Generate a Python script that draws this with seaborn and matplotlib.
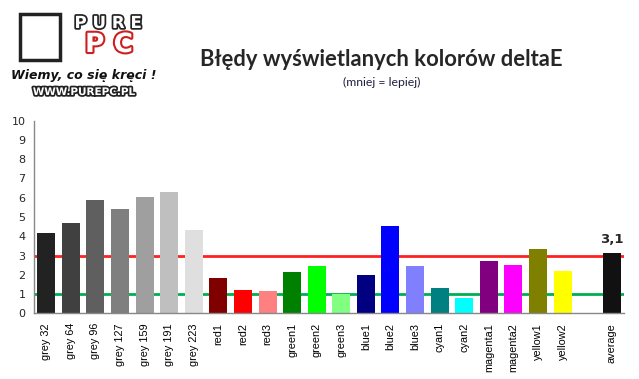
import matplotlib
matplotlib.use("Agg")
import matplotlib.pyplot as plt
import matplotlib.patheffects as pe
from matplotlib.patches import Rectangle
import seaborn as sns
import pandas as pd

categories = ["grey 32", "grey 64", "grey 96", "grey 127", "grey 159", "grey 191", "grey 223",
              "red1", "red2", "red3", "green1", "green2", "green3",
              "blue1", "blue2", "blue3", "cyan1", "cyan2",
              "magenta1", "magenta2", "yellow1", "yellow2", " ", "average"]
values = [4.17, 4.69, 5.88, 5.42, 6.04, 6.30, 4.33,
          1.83, 1.21, 1.16, 2.15, 2.46, 1.00,
          1.99, 4.53, 2.46, 1.31, 0.80,
          2.72, 2.51, 3.34, 2.20, 0.0, 3.13]
colors = ["#222222", "#404040", "#5f5f5f", "#7f7f7f", "#9f9f9f", "#bfbfbf", "#dfdfdf",
          "#800000", "#ff0000", "#ff8080", "#008000", "#00ff00", "#80ff80",
          "#000080", "#0000ff", "#8080ff", "#008080", "#00ffff",
          "#800080", "#ff00ff", "#808000", "#ffff00", "#ffffff", "#111111"]
y_ticks = list(range(0, 11))
red_level = 3
green_level = 1
avg_label = "3,1"
title = "Błędy wyświetlanych kolorów deltaE"
subtitle = "(mniej = lepiej)"

df = pd.DataFrame({"cat": categories, "val": values})
palette = dict(zip(categories, colors))

sns.set_style("white")
fig = plt.figure(figsize=(6.39, 3.79), dpi=100)
ax = fig.add_axes([34 / 639, (379 - 313.3) / 379, 590 / 639, 192.6 / 379])

sns.barplot(data=df, x="cat", y="val", hue="cat", palette=palette, order=categories,
            hue_order=categories, width=0.73, legend=False, ax=ax, saturation=1,
            linewidth=0, edgecolor="none")

ax.set_xlim(-0.5, len(categories) - 0.5)
ax.set_ylim(0, 10)
ax.set_yticks(y_ticks)
ax.set_yticklabels([str(t) for t in y_ticks], fontsize=8, family="DejaVu Sans")
ax.set_xlabel("")
ax.set_ylabel("")
ax.axhline(red_level, color="#ff2020", lw=2, zorder=1)
ax.axhline(green_level, color="#00b050", lw=2, zorder=1)
for b in ax.patches:
    b.set_zorder(2)
    b.set_linewidth(0)

ax.set_xticks(range(len(categories)))
ax.set_xticklabels(categories, rotation=90, fontsize=7.8, family="Liberation Sans", color="#000000")
ax.set_xticks([i - 0.5 for i in range(len(categories) + 1)], minor=True)
ax.tick_params(axis="x", which="major", length=0, pad=7)
ax.tick_params(axis="x", which="minor", length=4, color="#888888", width=1, direction="out")
ax.tick_params(axis="y", length=4, color="#888888", width=1, direction="out", pad=2)

for s in ["top", "right"]:
    ax.spines[s].set_visible(False)
for s in ["left", "bottom"]:
    ax.spines[s].set_color("#888888")
    ax.spines[s].set_linewidth(1)

avg_idx = categories.index("average")
ax.text(avg_idx, values[avg_idx] + 0.35, avg_label, ha="center", va="bottom",
        fontsize=9.5, fontweight="bold", family="DejaVu Sans")

fig.text(381 / 639, 1 - 60 / 379, title, ha="center", va="center",
         fontsize=15.8, fontweight="bold", family="Lato")
fig.text(382 / 639, 1 - 82 / 379, subtitle, ha="center", va="center",
         fontsize=8.8, family="Lato", color="#202040")

# logo (approximate)
outline = [pe.withStroke(linewidth=2.5, foreground="#222222")]
fig.patches.append(Rectangle((20 / 639, 1 - 60 / 379), 40 / 639, 46 / 379,
                             transform=fig.transFigure, fill=False, ec="#222222", lw=2.5))
fig.text(108 / 639, 1 - 23 / 379, "P U R E", ha="center", va="center", fontsize=12,
         fontweight="bold", color="white", family="DejaVu Sans", path_effects=outline)
fig.text(109 / 639, 1 - 45 / 379, "P C", ha="center", va="center", fontsize=19,
         fontweight="bold", color="white", family="DejaVu Sans",
         path_effects=[pe.withStroke(linewidth=3, foreground="#cc2020")])
fig.text(84 / 639, 1 - 76 / 379, "Wiemy, co się kręci !", ha="center", va="center",
         fontsize=9, fontweight="bold", style="italic", color="#111111", family="DejaVu Sans")
fig.text(84 / 639, 1 - 92 / 379, "WWW.PUREPC.PL", ha="center", va="center",
         fontsize=7.5, fontweight="bold", color="white", family="DejaVu Sans", path_effects=outline)

fig.savefig("out.png", dpi=100)
